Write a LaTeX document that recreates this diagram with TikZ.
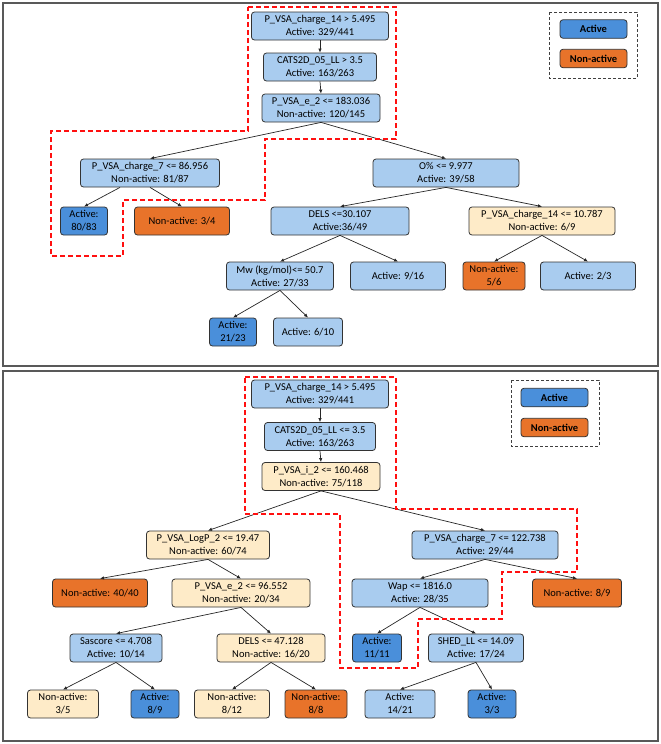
\documentclass[tikz,border=0pt]{standalone}
\usepackage{fontspec}
\setmainfont{Carlito}
\usetikzlibrary{arrows.meta}
\definecolor{lb}{HTML}{A9CCEF}
\definecolor{db}{HTML}{4A8FDA}
\definecolor{og}{HTML}{E8732A}
\definecolor{bg}{HTML}{FEEBC8}
\definecolor{rd}{HTML}{FF1010}
\begin{document}
\begin{tikzpicture}[x=1pt,y=-1pt,
  box/.style={draw=black!80, line width=0.8pt, rounded corners=3pt, align=center,
    inner sep=0pt, minimum height=28pt, font=\fontsize{10.5}{13}\selectfont},
  lbx/.style={box, fill=lb},
  dbx/.style={box, fill=db},
  ogx/.style={box, fill=og},
  bgx/.style={box, fill=bg},
  legbox/.style={box, minimum height=18.5pt, minimum width=67pt, font=\fontsize{10.5}{13}\selectfont\bfseries},
  arr/.style={-{Latex[length=4pt,width=3.5pt]}, line width=0.7pt, draw=black!85},
  redpath/.style={draw=rd, line width=1.6pt, dash pattern=on 5pt off 3pt},
  legdash/.style={draw=black!75, line width=1pt, dash pattern=on 3pt off 2pt},
  frame/.style={draw=black!65, line width=1.3pt}]
\useasboundingbox (0,0) rectangle (661,744);
% panel frames
\draw[frame] (3,3) rectangle (658,366);
\draw[frame] (3,371) rectangle (658,741);

% ---------------- top panel ----------------
\node[lbx, minimum width=137pt] (t1) at (320,26) {P\_VSA\_charge\_14 > 5.495\\Active: 329/441};
\node[lbx, minimum width=113pt] (t2) at (320,67) {CATS2D\_05\_LL > 3.5\\Active: 163/263};
\node[lbx, minimum width=118pt] (t3) at (321,108) {P\_VSA\_e\_2 <= 183.036\\Non-active: 120/145};
\node[lbx, minimum width=139pt] (t4) at (150,173) {P\_VSA\_charge\_7 <= 86.956\\Non-active: 81/87};
\node[dbx, minimum width=47pt] (t5) at (84,221) {Active:\\80/83};
\node[ogx, minimum width=95pt] (t6) at (182,221) {Non-active: 3/4};
\node[lbx, minimum width=146pt] (t7) at (446,173) {O\% <= 9.977\\Active: 39/58};
\node[lbx, minimum width=138pt] (t8) at (340,221) {DELS <=30.107\\Active:36/49};
\node[bgx, minimum width=146pt] (t9) at (542,221) {P\_VSA\_charge\_14 <= 10.787\\Non-active: 6/9};
\node[lbx, minimum width=107pt] (t10) at (280,276) {Mw (kg/mol)<= 50.7\\Active: 27/33};
\node[lbx, minimum width=95pt] (t11) at (398,276) {Active: 9/16};
\node[ogx, minimum width=62pt] (t12) at (494,276) {Non-active:\\5/6};
\node[lbx, minimum width=95pt] (t13) at (588,276) {Active: 2/3};
\node[dbx, minimum width=47pt] (t14) at (233,332) {Active:\\21/23};
\node[lbx, minimum width=69pt] (t15) at (308,332) {Active: 6/10};

\draw[arr] (t1.south) -- (t2.north);
\draw[arr] (t2.south) -- (t3.north);
\draw[arr] (t3.south) -- (t4.north);
\draw[arr] (t3.south) -- (t7.north);
\draw[arr] ([xshift=-30pt]t4.south) -- (t5.north);
\draw[arr] (t4.south) -- (t6.north);
\draw[arr] (t7.south) -- (t8.north);
\draw[arr] (t7.south) -- (t9.north);
\draw[arr] (t8.south) -- (t10.north);
\draw[arr] (t8.south) -- (t11.north);
\draw[arr] (t9.south) -- (t12.north);
\draw[arr] (t9.south) -- (t13.north);
\draw[arr] (t10.south) -- (t14.north);
\draw[arr] (t10.south) -- (t15.north);

\draw[redpath] (248,7) -- (396,7) -- (396,139) -- (265,139) -- (265,200) -- (123,200)
  -- (123,256) -- (51,256) -- (51,131) -- (248,131) -- cycle;

% legend top
\draw[legdash] (549,12) rectangle (637,78);
\node[legbox, fill=db] (tla) at (593.5,29) {Active};
\node[legbox, fill=og] (tln) at (593.5,58.5) {Non-active};

% ---------------- bottom panel ----------------
\node[lbx, minimum width=137pt] (b1) at (320,394) {P\_VSA\_charge\_14 > 5.495\\Active: 329/441};
\node[lbx, minimum width=111pt] (b2) at (320,436.5) {CATS2D\_05\_LL <= 3.5\\Active: 163/263};
\node[bgx, minimum width=118pt] (b3) at (321,476.5) {P\_VSA\_i\_2 <= 160.468\\Non-active: 75/118};
\node[bgx, minimum width=123pt] (b4) at (208,545) {P\_VSA\_LogP\_2 <= 19.47\\Non-active: 60/74};
\node[ogx, minimum width=95pt] (b5) at (100,593) {Non-active: 40/40};
\node[bgx, minimum width=138pt] (b6) at (241,593) {P\_VSA\_e\_2 <= 96.552\\Non-active: 20/34};
\node[lbx, minimum width=146pt] (b7) at (485,545) {P\_VSA\_charge\_7 <= 122.738\\Active: 29/44};
\node[lbx, minimum width=136pt] (b8) at (420,593) {Wap <= 1816.0\\Active: 28/35};
\node[ogx, minimum width=89pt] (b9) at (577,593) {Non-active: 8/9};
\node[lbx, minimum width=92pt] (b10) at (116,648) {Sascore <= 4.708\\Active: 10/14};
\node[bgx, minimum width=108pt] (b11) at (271,648) {DELS <= 47.128\\Non-active: 16/20};
\node[dbx, minimum width=49pt] (b12) at (377,648) {Active:\\11/11};
\node[lbx, minimum width=95pt] (b13) at (476,648) {SHED\_LL <= 14.09\\Active: 17/24};
\node[bgx, minimum width=71pt] (b14) at (63,704) {Non-active:\\3/5};
\node[dbx, minimum width=48pt] (b15) at (155,704) {Active:\\8/9};
\node[bgx, minimum width=75pt] (b16) at (232,704) {Non-active:\\8/12};
\node[ogx, minimum width=62pt] (b17) at (316,704) {Non-active:\\8/8};
\node[lbx, minimum width=70pt] (b18) at (400,704) {Active:\\14/21};
\node[dbx, minimum width=48pt] (b19) at (492,704) {Active:\\3/3};

\draw[arr] (b1.south) -- (b2.north);
\draw[arr] (b2.south) -- (b3.north);
\draw[arr] (b3.south) -- (b4.north);
\draw[arr] (b3.south) -- (b7.north);
\draw[arr] (b4.south) -- (b5.north);
\draw[arr] (b4.south) -- (b6.north);
\draw[arr] (b6.south) -- (b10.north);
\draw[arr] (b6.south) -- (b11.north);
\draw[arr] (b7.south) -- (b8.north);
\draw[arr] (b7.south) -- (b9.north);
\draw[arr] (b8.south) -- (b12.north);
\draw[arr] (b8.south) -- (b13.north);
\draw[arr] (b10.south) -- (b14.north);
\draw[arr] (b10.south) -- (b15.north);
\draw[arr] (b11.south) -- (b16.north);
\draw[arr] (b11.south) -- (b17.north);
\draw[arr] (b13.south) -- (b18.north);
\draw[arr] (b13.south) -- (b19.north);

\draw[redpath] (245,377) -- (396,377) -- (396,509) -- (577,509) -- (577,572) -- (502,572)
  -- (502,619) -- (418,619) -- (418,668) -- (340,668) -- (340,514) -- (245,514) -- cycle;

% legend bottom
\draw[legdash] (511,380) rectangle (599,446);
\node[legbox, fill=db] (bla) at (554.5,397.5) {Active};
\node[legbox, fill=og] (bln) at (554.5,427.5) {Non-active};
\end{tikzpicture}
\end{document}
